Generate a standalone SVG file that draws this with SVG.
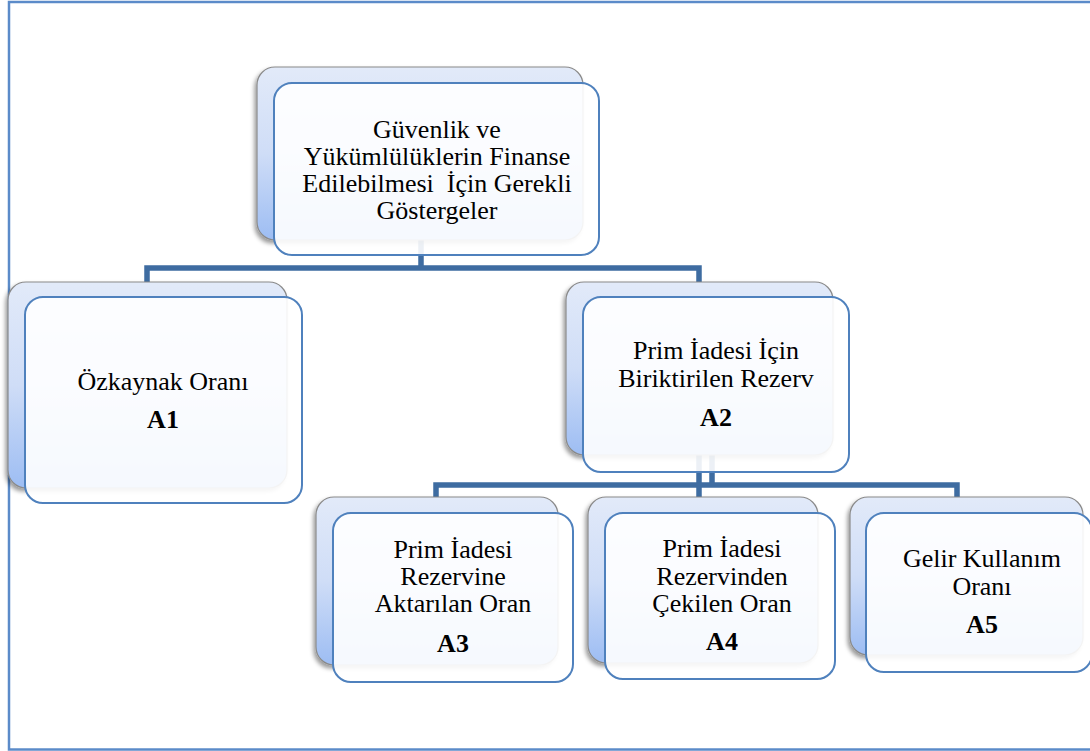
<svg xmlns="http://www.w3.org/2000/svg" width="1090" height="751" viewBox="0 0 1090 751">
  <defs>
    <linearGradient id="backGrad" x1="0" y1="0" x2="0" y2="1">
      <stop offset="0" stop-color="#E2EAF9"/>
      <stop offset="0.5" stop-color="#CFDDF7"/>
      <stop offset="1" stop-color="#9DBDF3"/>
    </linearGradient>
    <filter id="shadow" x="-10%" y="-10%" width="120%" height="125%">
      <feDropShadow dx="-2" dy="3" stdDeviation="2.2" flood-color="#000" flood-opacity="0.4"/>
    </filter>
    <style>
      .back { fill: url(#backGrad); stroke: #8A8A8A; stroke-width: 1.2; filter: url(#shadow); }
      .front { fill: #FFFFFF; fill-opacity: 0.9; stroke: #4F81BD; stroke-width: 2; }
      .lbl { font-family: "Liberation Serif", "Times New Roman", serif; font-size: 26px; fill: #000; text-anchor: middle; }
      .code { font-family: "Liberation Serif", "Times New Roman", serif; font-size: 26px; font-weight: bold; fill: #000; text-anchor: middle; }
      .conn { fill: none; stroke: #3E6CA1; stroke-width: 5.5; stroke-linejoin: miter; }
    </style>
  </defs>

  <rect x="0" y="0" width="1090" height="751" fill="#FFFFFF"/>
  <rect id="frame" x="9" y="2" width="1100" height="747.5" fill="none" stroke="#5B8BC9" stroke-width="2.5"/>

  <g id="connectors">
    <path class="conn" d="M421,240 V268 M147,285 V268 H699 V285"/>
    <path class="conn" d="M712,455 V485 M699,455 V500 M436,500 V485 H957 V500"/>
  </g>

  <g id="node-root">
    <rect class="back" x="257" y="67" width="326" height="173" rx="18"/>
    <rect class="front" x="274" y="83" width="325" height="172" rx="18"/>
    <text class="lbl" x="437" y="138">Güvenlik ve</text>
    <text class="lbl" x="437" y="165">Yükümlülüklerin Finanse</text>
    <text class="lbl" x="437" y="192" xml:space="preserve">Edilebilmesi  İçin Gerekli</text>
    <text class="lbl" x="437" y="219">Göstergeler</text>
  </g>

  <g id="node-A1">
    <rect class="back" x="8" y="282" width="279" height="206" rx="18"/>
    <rect class="front" x="25" y="297" width="277" height="206" rx="18"/>
    <text class="lbl" x="163" y="390">Özkaynak Oranı</text>
    <text class="code" x="163" y="428">A1</text>
  </g>

  <g id="node-A2">
    <rect class="back" x="566" y="282" width="267" height="173" rx="18"/>
    <rect class="front" x="583" y="297" width="266" height="175" rx="18"/>
    <text class="lbl" x="716" y="359">Prim İadesi İçin</text>
    <text class="lbl" x="716" y="387">Biriktirilen Rezerv</text>
    <text class="code" x="716" y="426">A2</text>
  </g>

  <g id="node-A3">
    <rect class="back" x="316" y="497" width="242" height="168" rx="18"/>
    <rect class="front" x="333" y="513" width="240" height="169" rx="18"/>
    <text class="lbl" x="453" y="558">Prim İadesi</text>
    <text class="lbl" x="453" y="585">Rezervine</text>
    <text class="lbl" x="453" y="612">Aktarılan Oran</text>
    <text class="code" x="453" y="652">A3</text>
  </g>

  <g id="node-A4">
    <rect class="back" x="588" y="497" width="230" height="166" rx="18"/>
    <rect class="front" x="605" y="513" width="230" height="166" rx="18"/>
    <text class="lbl" x="722" y="557">Prim İadesi</text>
    <text class="lbl" x="722" y="585">Rezervinden</text>
    <text class="lbl" x="722" y="612">Çekilen Oran</text>
    <text class="code" x="722" y="650">A4</text>
  </g>

  <g id="node-A5">
    <rect class="back" x="850" y="497" width="233" height="158" rx="18"/>
    <rect class="front" x="866" y="513" width="226" height="159" rx="18"/>
    <text class="lbl" x="982" y="567">Gelir Kullanım</text>
    <text class="lbl" x="982" y="595">Oranı</text>
    <text class="code" x="982" y="633">A5</text>
  </g>
</svg>
